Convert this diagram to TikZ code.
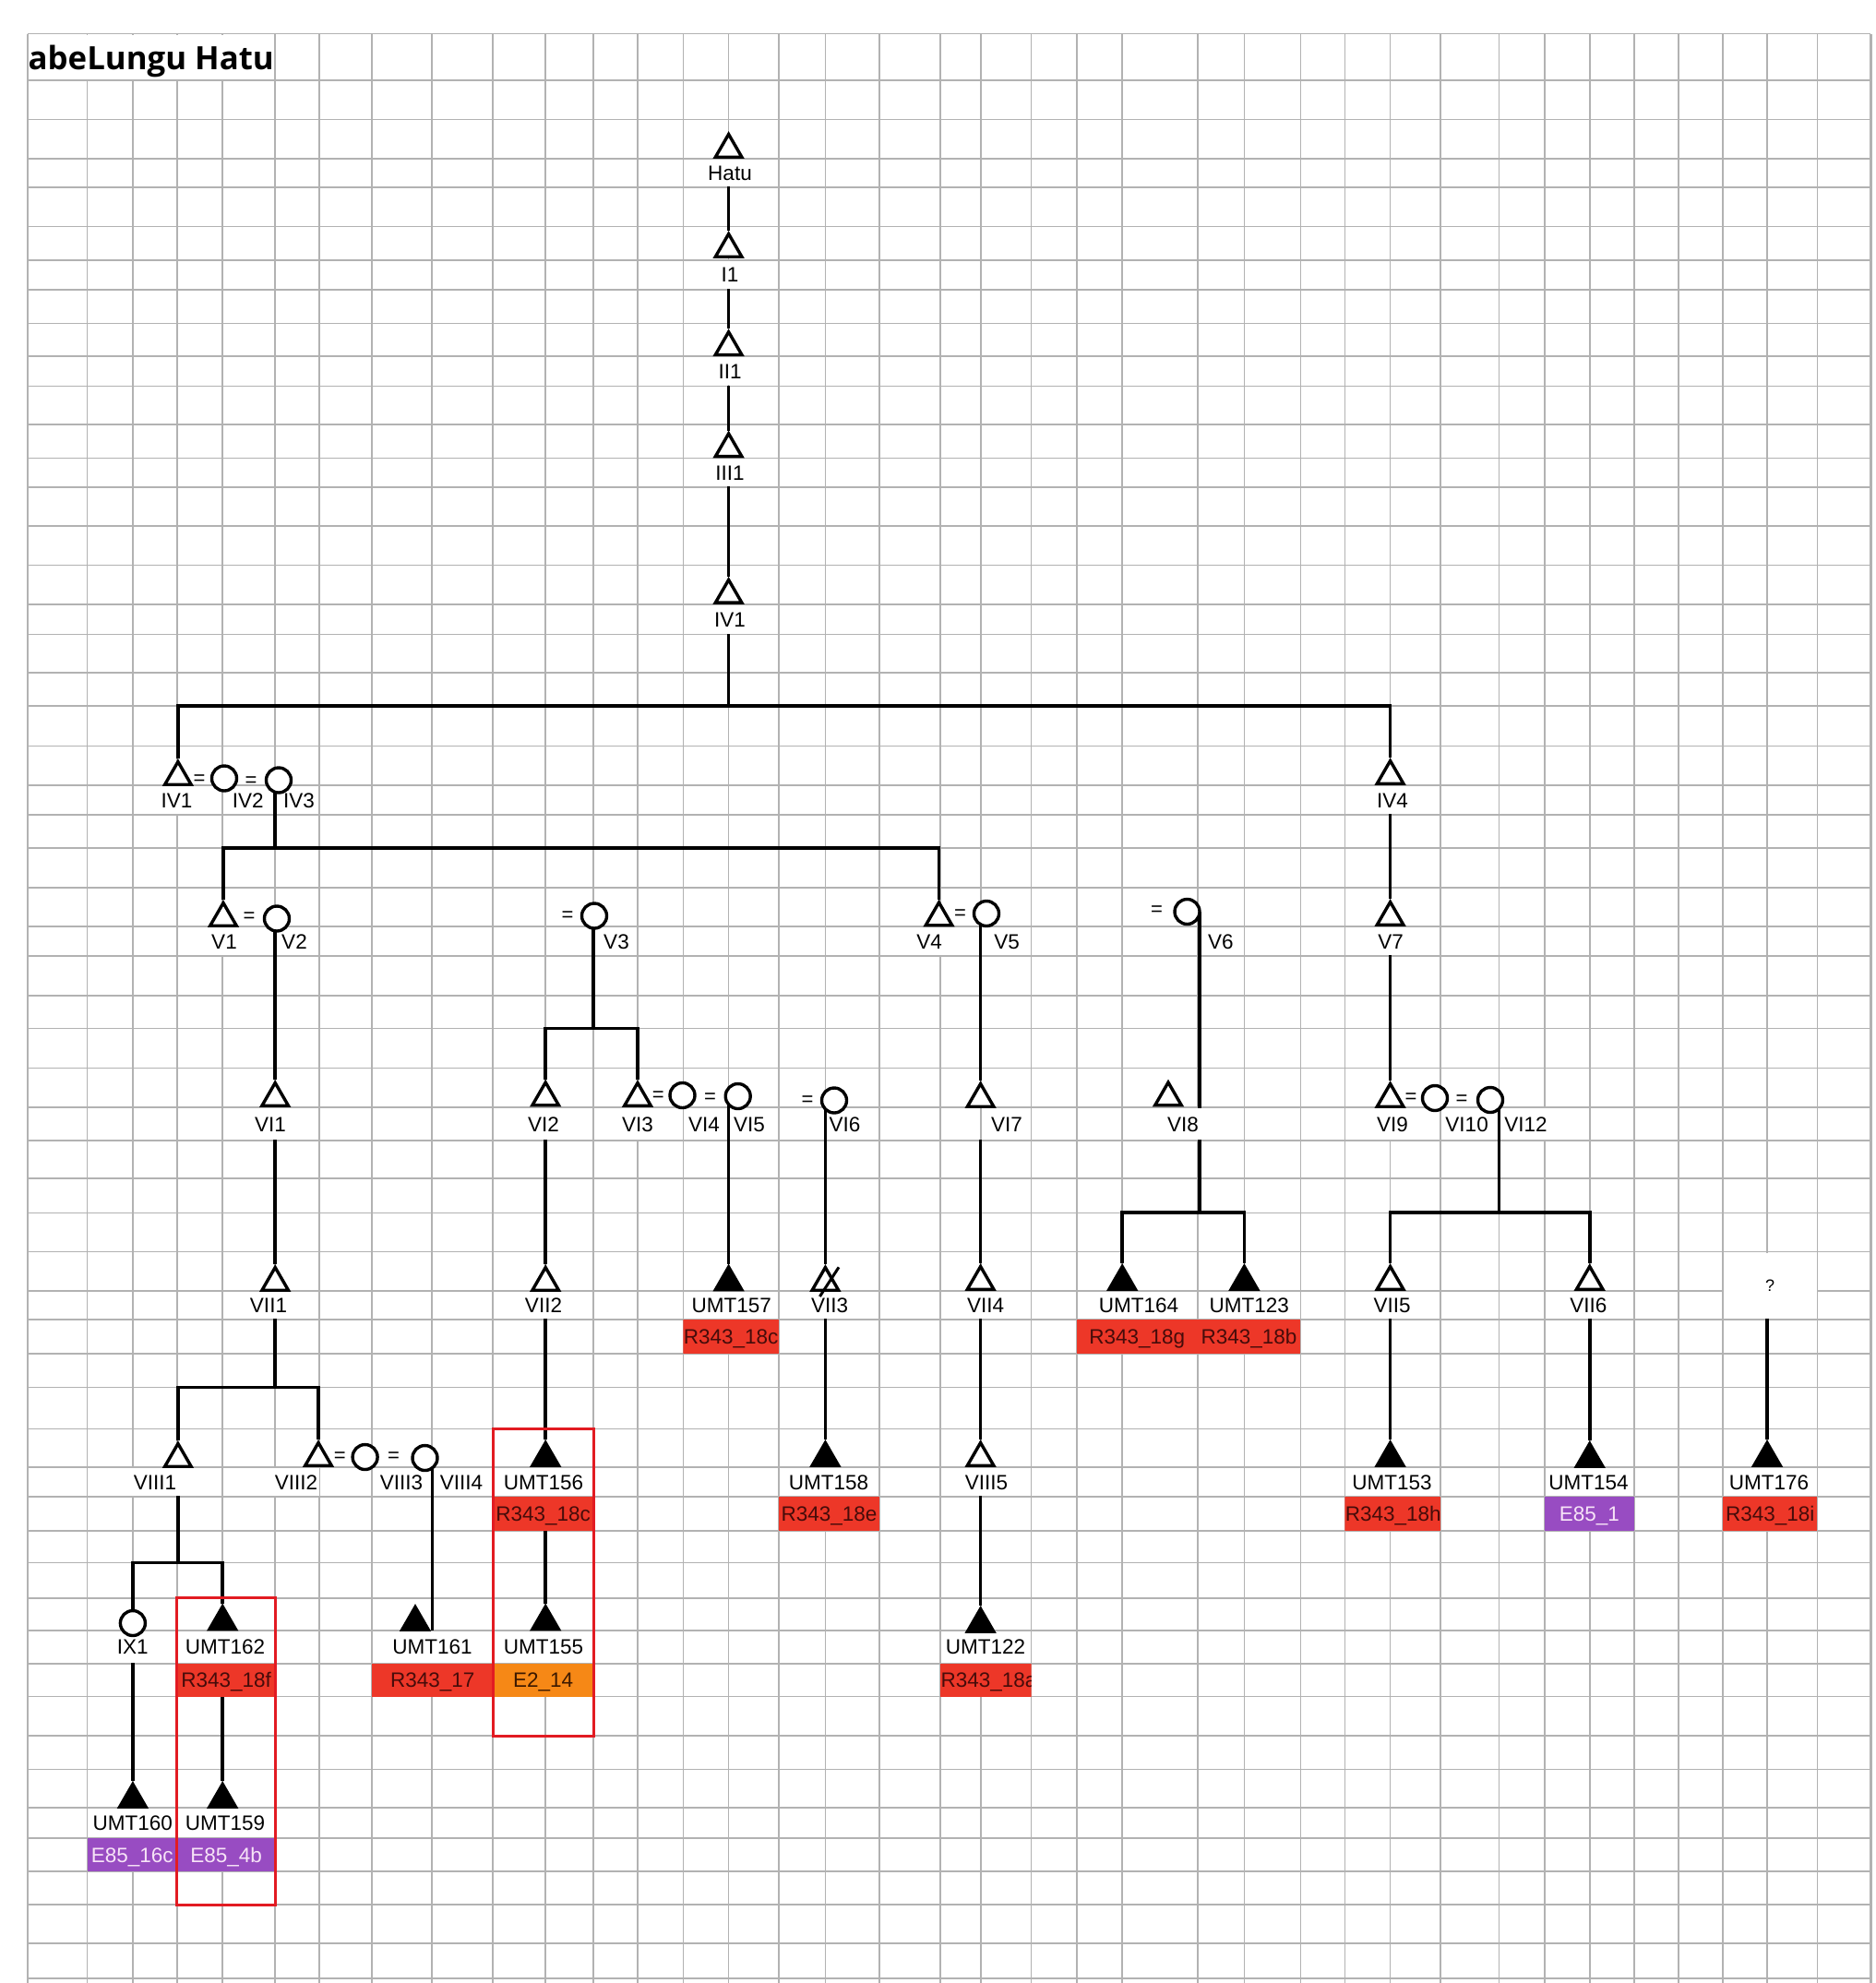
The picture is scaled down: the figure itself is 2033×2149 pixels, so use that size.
\documentclass[tikz,border=0pt]{standalone}
\usepackage{fontspec}
\setmainfont{Liberation Sans}
\newfontfamily\titlefont{Open Sans}
\usetikzlibrary{shapes.geometric,calc}
\pgfdeclarelayer{bg}
\pgfdeclarelayer{ln}
\pgfdeclarelayer{lb}
\pgfsetlayers{bg,ln,lb,main}
\definecolor{gridc}{RGB}{178,178,178}
\definecolor{cred}{RGB}{237,55,40}
\definecolor{ctxt}{RGB}{70,12,10}
\definecolor{cpur}{RGB}{152,76,194}
\definecolor{ptxt}{RGB}{247,228,247}
\definecolor{corg}{RGB}{246,136,22}
\definecolor{otxt}{RGB}{60,25,0}
\definecolor{fred}{RGB}{226,27,34}
\tikzset{
 gridl/.style={draw=gridc, line width=1.6pt},
 ped/.style={line width=3.6pt, black},
 mtri/.style={regular polygon, regular polygon sides=3, minimum size=33pt, inner sep=0pt, draw=black, line width=3.4pt, line join=miter, fill=white},
 ftri/.style={mtri, fill=black},
 fcirc/.style={circle, minimum size=27pt, inner sep=0pt, draw=black, line width=3.4pt, fill=white},
 lbl/.style={fill=white, inner xsep=1.5pt, inner ysep=0pt, text height=16pt, text depth=0pt, font=\fontsize{22.5}{24}\selectfont},
 eqs/.style={inner sep=0pt, font=\fontsize{22}{24}\selectfont},
 rframe/.style={draw=fred, line width=3pt},
}
\newcommand\plab[6][]{\begin{pgfonlayer}{lb}\node[lbl, minimum height={(#5-#4-2)*1pt}, #1] (#2) at (#3,{(#4+#5)/2}) {#6};\end{pgfonlayer}}
\newcommand\cbfont{\fontsize{22.5}{24}\selectfont}
\newcommand\cbx[8]{%
 \pgfmathsetmacro\cbwd{#3-#2-1}%
 \begin{scope}
 \clip (#2,#4) rectangle (#3,#5);
 \node[fill=#6, draw=none, inner sep=0pt, minimum width={(#3-#2)*1pt}, minimum height={(#5-#4)*1pt}] (#1) at ({(#2+#3)/2},{(#4+#5)/2}) {};
 \node[inner sep=0pt, text width=\cbwd pt, align=center, text height=16pt, text depth=0pt, text=#7, font=\cbfont] (#1t) at ({(#2+#3)/2},{(#4+#5)/2}) {#8};
 \end{scope}}
\begin{document}
\begin{tikzpicture}[x=1pt,y=-1pt]
\useasboundingbox (0,0) rectangle (2033,2149);
% ---------------- grid
\begin{pgfonlayer}{bg}
\foreach \gx in {30,94.6,143.9,191.9,241.2,298.2,346.2,403.2,468.0,534.2,591.2,643.1,691.0,740.3,789.6,844.0,894.6,952.9,1019.1,1063.1,1117.6,1166.9,1216.2,1297.8,1348.4,1409.3,1457.3,1506.6,1561.0,1624.6,1673.8,1723.1,1770.9,1819.0,1867.0,1915.0,1969.4}
  \draw[gridl] (\gx,36.6) -- (\gx,2149);
\draw[gridl, line width=3pt] (2027,36.6) -- (2027,2149);
\foreach \gy in {36.6,87.1,129.5,171.9,203.1,245.5,282.1,313.8,350.4,386.2,418.3,459.8,496.4,528.1,570.1,612.4,654.9,687.5,728.7,765,808.3,851.2,882.9,918.9,962.1,1004.2,1036,1078.9,1114.5,1157.3,1200.2,1235.8,1277.1,1314.4,1356.5,1399.2,1430,1467,1503.5,1548.5,1590.2,1622.2,1659,1693.5,1731.7,1767,1802.8,1838.6,1881.2,1917.3,1958.9,1992.1,2028.2,2064.2,2105.8,2144}
  \draw[gridl] (30,\gy) -- (2027,\gy);
\fill[white] (31,38) rectangle (297.4,86.2);
\end{pgfonlayer}
% ---------------- title
\node[anchor=base west, inner sep=0pt] (title) at (30.5,76) {\resizebox{266pt}{!}{\titlefont\bfseries abeLungu Hatu}};

% ---------------- coordinates of sibship bars
\coordinate (bIV) at (789.6,765);
\coordinate (bV) at (298.2,918.9);
\coordinate (bV3) at (643.1,1114.5);
\coordinate (bVI8) at (1299.8,1313.7);
\coordinate (bVI12) at (1624.6,1313.7);
\coordinate (bVII1) at (298.2,1503.5);
\coordinate (bVIII1) at (192.9,1693.5);
\coordinate (cU161) at (468.6,1767);

% main trunk symbols
\node[mtri] (sHatu) at (789.6,162) {};
\node[mtri] (sI1) at (789.6,270) {};
\node[mtri] (sII1) at (789.6,376.2) {};
\node[mtri] (sIII1) at (789.6,486.4) {};
\node[mtri] (sIV1) at (789.6,644.9) {};
% generation IV
\node[mtri] (sIV1b) at (192.9,842) {};
\node[fcirc] (sIV2) at (243,843.5) {};
\node[fcirc] (sIV3) at (302,845.5) {};
\node[mtri] (sIV4) at (1506.6,841) {};
\node[eqs] (e1) at (216,845) {=};
\node[eqs] (e2) at (272,847) {=};
% generation V
\node[mtri] (sV1) at (242,995) {};
\node[fcirc] (sV2) at (300,995.5) {};
\node[fcirc] (sV3) at (644,992.5) {};
\node[mtri] (sV4) at (1017.5,994.5) {};
\node[fcirc] (sV5) at (1069,990) {};
\node[fcirc] (sV6) at (1286.5,988) {};
\node[mtri] (sV7) at (1506.6,994) {};
\node[eqs] (e3) at (270,994) {=};
\node[eqs] (e4) at (615,993) {=};
\node[eqs] (e5) at (1040.5,991) {=};
\node[eqs] (e6) at (1253.6,987) {=};
% generation VI
\node[mtri] (sVI1) at (298.2,1190) {};
\node[mtri] (sVI2) at (591.2,1189.5) {};
\node[mtri] (sVI3) at (691,1190) {};
\node[fcirc] (sVI4) at (739.5,1187) {};
\node[fcirc] (sVI5) at (799.7,1188) {};
\node[fcirc] (sVI6) at (904,1192.5) {};
\node[mtri] (sVI7) at (1062.6,1191) {};
\node[mtri] (sVI8) at (1266,1189.5) {};
\node[mtri] (sVI9) at (1506.6,1191) {};
\node[fcirc] (sVI10) at (1555,1190) {};
\node[fcirc] (sVI12) at (1615,1192) {};
\node[eqs] (e7) at (713.4,1188) {=};
\node[eqs] (e8) at (769.5,1190) {=};
\node[eqs] (e9) at (875,1193) {=};
\node[eqs] (e10) at (1529,1190) {=};
\node[eqs] (e11) at (1584,1192) {=};
% generation VII
\node[mtri] (sVII1) at (298.2,1390) {};
\node[mtri] (sVII2) at (591.2,1390) {};
\node[ftri] (sU157) at (789.6,1389.5) {};
\node[mtri] (sVII3) at (894.4,1390) {};
\node[mtri] (sVII4) at (1062.6,1389) {};
\node[ftri] (sU164) at (1216.2,1389) {};
\node[ftri] (sU123) at (1348.4,1389) {};
\node[mtri] (sVII5) at (1506.6,1389) {};
\node[mtri] (sVII6) at (1722.7,1389) {};
% generation VIII
\node[mtri] (sVIII1) at (192.9,1581) {};
\node[mtri] (sVIII2) at (345,1580) {};
\node[fcirc] (sVIII3) at (395.6,1579) {};
\node[fcirc] (sVIII4) at (460.5,1580) {};
\node[ftri] (sU156) at (591.2,1580) {};
\node[ftri] (sU158) at (894.4,1580) {};
\node[mtri] (sVIII5) at (1062.6,1580) {};
\node[ftri] (sU153) at (1506.6,1580) {};
\node[ftri] (sU154) at (1722.7,1581) {};
\node[ftri] (sU176) at (1915,1580) {};
\node[eqs] (e12) at (368.3,1579) {=};
\node[eqs] (e13) at (426.5,1579) {=};
% generation IX
\node[fcirc] (sIX1) at (143.9,1759) {};
\node[ftri] (sU162) at (241.2,1757.5) {};
\node[ftri] (sU161) at (450,1758) {};
\node[ftri] (sU155) at (591.2,1757.5) {};
\node[ftri] (sU122) at (1062.6,1760) {};
% generation X
\node[ftri] (sU160) at (143.9,1950) {};
\node[ftri] (sU159) at (241.2,1950) {};

% deceased mark on VII3
\draw[line width=3pt] ($(sVII3.center)+(-6,15)$) -- ($(sVII3.center)+(14.6,-16.7)$);

% ---------------- labels
\plab{lHatu}{791}{171.9}{203.1}{Hatu}
\plab{lI1}{791}{282.1}{313.8}{I1}
\plab{lII1}{791}{386.2}{418.3}{II1}
\plab{lIII1}{791}{496.4}{528.1}{III1}
\plab{lIV1}{791}{654.9}{687.5}{IV1}
\plab{lIV1b}{191.5}{851.2}{882.9}{IV1}
\plab{lIV2}{268.7}{851.2}{882.9}{IV2}
\plab{lIV3}{324}{851.2}{882.9}{IV3}
\plab{lIV4}{1509}{851.2}{882.9}{IV4}
\plab{lV1}{243}{1004.2}{1036}{V1}
\plab{lV2}{319}{1004.2}{1036}{V2}
\plab{lV3}{668}{1004.2}{1036}{V3}
\plab{lV4}{1007}{1004.2}{1036}{V4}
\plab{lV5}{1091}{1004.2}{1036}{V5}
\plab{lV6}{1322.8}{1004.2}{1036}{V6}
\plab{lV7}{1507}{1004.2}{1036}{V7}
\plab{lVI1}{293}{1200.2}{1235.8}{VI1}
\plab{lVI2}{589}{1200.2}{1235.8}{VI2}
\plab{lVI3}{691}{1200.2}{1235.8}{VI3}
\plab{lVI4}{763}{1200.2}{1235.8}{VI4}
\plab{lVI5}{812}{1200.2}{1235.8}{VI5}
\plab{lVI6}{915.5}{1200.2}{1235.8}{VI6}
\plab{lVI7}{1091}{1200.2}{1235.8}{VI7}
\plab[minimum width=46pt]{lVI8}{1282}{1200.2}{1235.8}{VI8}
\plab{lVI9}{1509}{1200.2}{1235.8}{VI9}
\plab{lVI10}{1589.6}{1200.2}{1235.8}{VI10}
\plab{lVI12}{1653.5}{1200.2}{1235.8}{VI12}
\plab{lVII1}{291}{1399.2}{1430}{VII1}
\plab{lVII2}{589}{1399.2}{1430}{VII2}
\plab{lU157}{792.7}{1399.2}{1430}{UMT157}
\plab{lVII3}{899}{1399.2}{1430}{VII3}
\plab{lVII4}{1068}{1399.2}{1430}{VII4}
\plab{lU164}{1234}{1399.2}{1430}{UMT164}
\plab{lU123}{1353.8}{1399.2}{1430}{UMT123}
\plab{lVII5}{1508.6}{1399.2}{1430}{VII5}
\plab{lVII6}{1721.4}{1399.2}{1430}{VII6}
\begin{pgfonlayer}{lb}
\node[fill=white, inner sep=0pt, minimum width=101pt, minimum height=71pt, font=\fontsize{18}{20}\selectfont] (qbox) at (1918.2,1393.2) {?};
\end{pgfonlayer}
\plab{lVIII1}{168}{1590.2}{1622.2}{VIII1}
\plab{lVIII2}{321}{1590.2}{1622.2}{VIII2}
\plab{lVIII3}{435}{1590.2}{1622.2}{VIII3}
\plab{lVIII4}{500}{1590.2}{1622.2}{VIII4}
\plab{lU156}{589}{1590.2}{1622.2}{UMT156}
\plab{lU158}{898}{1590.2}{1622.2}{UMT158}
\plab{lVIII5}{1069}{1590.2}{1622.2}{VIII5}
\plab{lU153}{1508.6}{1590.2}{1622.2}{UMT153}
\plab{lU154}{1721.4}{1590.2}{1622.2}{UMT154}
\plab{lU176}{1917}{1590.2}{1622.2}{UMT176}
\plab{lIX1}{143.8}{1767}{1802.8}{IX1}
\plab{lU162}{244}{1767}{1802.8}{UMT162}
\plab{lU161}{468.6}{1767}{1802.8}{UMT161}
\plab{lU155}{589}{1767}{1802.8}{UMT155}
\plab{lU122}{1068}{1767}{1802.8}{UMT122}
\plab{lU160}{143.8}{1958.9}{1992.1}{UMT160}
\plab{lU159}{244}{1958.9}{1992.1}{UMT159}

% ---------------- colored sample boxes
\cbx{bxC1}{740.3}{844}{1430}{1467}{cred}{ctxt}{R343\_18c}
\cbx{bxG}{1166.9}{1297.8}{1430}{1467}{cred}{ctxt}{R343\_18g}
\cbx{bxB}{1297.8}{1409.3}{1430}{1467}{cred}{ctxt}{R343\_18b}
\cbx{bxC2}{534.2}{643.1}{1622.2}{1659}{cred}{ctxt}{R343\_18c}
\cbx{bxE}{844}{952.9}{1622.2}{1659}{cred}{ctxt}{R343\_18e}
\cbx{bxH}{1457.3}{1561}{1622.2}{1659}{cred}{ctxt}{R343\_18h}
\cbx{bxP1}{1673.8}{1770.9}{1622.2}{1659}{cpur}{ptxt}{E85\_1}
\cbx{bxI}{1867}{1969.4}{1622.2}{1659}{cred}{ctxt}{R343\_18i}
\cbx{bxF}{191.9}{298.2}{1802.8}{1838.6}{cred}{ctxt}{R343\_18f}
\cbx{bxS}{403.2}{534.2}{1802.8}{1838.6}{cred}{ctxt}{R343\_17}
\cbx{bxO}{534.2}{643.1}{1802.8}{1838.6}{corg}{otxt}{E2\_14}
\cbx{bxA}{1019.1}{1117.6}{1802.8}{1838.6}{cred}{ctxt}{R343\_18a}
\cbx{bxP16}{94.6}{191.9}{1992.1}{2028.2}{cpur}{ptxt}{E85\_16c}
\cbx{bxP4}{191.9}{298.2}{1992.1}{2028.2}{cpur}{ptxt}{E85\_4b}

% ---------------- red frames
\draw[rframe] (191.9,1731.7) rectangle (298.2,2064.2);
\draw[rframe] (534.2,1548.5) rectangle (643.1,1881.2);

% ---------------- pedigree lines (behind symbols and labels)
\begin{pgfonlayer}{ln}
\draw[ped] (lHatu.south -| sHatu) -- (sI1.corner 1);
\draw[ped] (lI1.south -| sI1) -- (sII1.corner 1);
\draw[ped] (lII1.south -| sII1) -- (sIII1.corner 1);
\draw[ped] (lIII1.south -| sIII1) -- (sIV1.corner 1);
\draw[ped] (lIV1.south -| sIV1) -- (bIV);
\draw[ped] (sIV1b.corner 1) |- (bIV) -| (sIV4.corner 1);
% IV3 descendants
\draw[ped] (sIV3.center -| bV) -- (bV);
\draw[ped] (sV1.corner 1) |- (bV) -| (sV4.corner 1);
\draw[ped] (sV2.center -| sVI1) -- (sVI1.corner 1);
\draw[ped] (lVI1.south -| sVI1) -- (sVII1.corner 1);
\draw[ped] (lVII1.south -| bVII1) -- (bVII1);
\draw[ped] (sVIII1.corner 1) |- (bVII1) -| (sVIII2.corner 1);
\draw[ped] (lVIII1.south -| bVIII1) -- (bVIII1);
\draw[ped] (sIX1.center) |- (bVIII1) -| (sU162.corner 1);
\draw[ped] (lIX1.south -| sIX1) -- (sU160.corner 1);
\draw[ped] (bxF.south -| sU162) -- (sU159.corner 1);
\draw[ped] (sVIII4.center -| cU161) -- (cU161);
% V3
\draw[ped] (sV3.center -| bV3) -- (bV3);
\draw[ped] (sVI2.corner 1) |- (bV3) -| (sVI3.corner 1);
\draw[ped] (lVI2.south -| sVI2) -- (sVII2.corner 1);
\draw[ped] (lVII2.south -| sVII2) -- (sU156.corner 1);
\draw[ped] (bxC2.south -| sU156) -- (sU155.corner 1);
\draw[ped] (sVI5.center -| sU157) -- (sU157.corner 1);
\draw[ped] (sVI6.center -| sVII3) -- (sVII3.corner 1);
\draw[ped] (lVII3.south -| sVII3) -- (sU158.corner 1);
% V4 / V5
\draw[ped] (sV5.center -| sVI7) -- (sVI7.corner 1);
\draw[ped] (lVI7.south -| sVI7) -- (sVII4.corner 1);
\draw[ped] (lVII4.south -| sVII4) -- (sVIII5.corner 1);
\draw[ped] (lVIII5.south -| sVIII5) -- (sU122.corner 1);
% V6
\draw[ped] (sV6.center -| bVI8) -- (bVI8);
\draw[ped] (sU164.corner 1) |- (bVI8) -| (sU123.corner 1);
% IV4 branch
\draw[ped] (lIV4.south -| sIV4) -- (sV7.corner 1);
\draw[ped] (lV7.south -| sV7) -- (sVI9.corner 1);
\draw[ped] (sVI12.center -| bVI12) -- (bVI12);
\draw[ped] (sVII5.corner 1) |- (bVI12) -| (sVII6.corner 1);
\draw[ped] (lVII5.south -| sVII5) -- (sU153.corner 1);
\draw[ped] (lVII6.south -| sVII6) -- (sU154.corner 1);
\draw[ped] (qbox.south -| sU176) -- (sU176.corner 1);
\end{pgfonlayer}
\end{tikzpicture}
\end{document}
